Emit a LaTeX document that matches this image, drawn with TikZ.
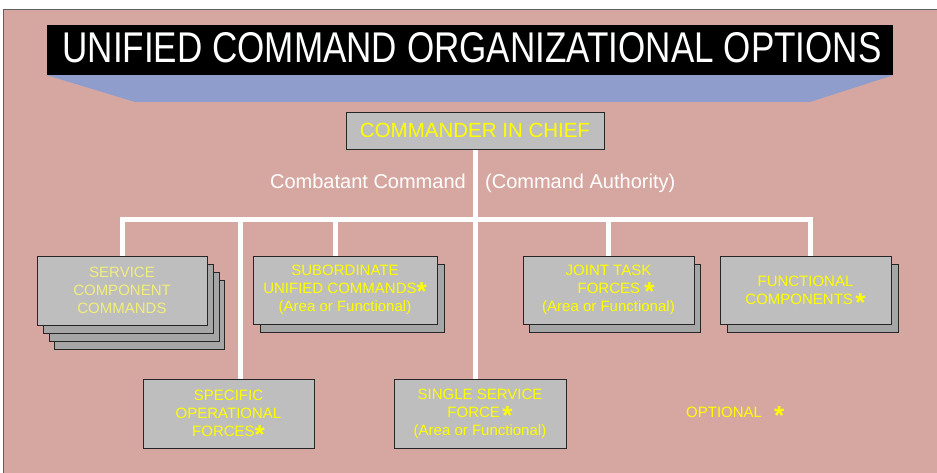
\documentclass[tikz,border=0pt]{standalone}
\usepackage{fontspec}
\setmainfont{Liberation Sans}
\usepackage{graphicx}
\usepackage{tikz}
\usetikzlibrary{positioning,calc,shadows,backgrounds}
\definecolor{slidepink}{HTML}{D6A7A1}
\definecolor{bandblue}{HTML}{8F9DCC}
\definecolor{boxgrey}{HTML}{BEBEBE}
\definecolor{shadegrey}{HTML}{A6A6A6}
\definecolor{textyellow}{HTML}{FFFF00}
\definecolor{paleyellow}{HTML}{F2EE7C}
\definecolor{edgegrey}{HTML}{606060}
\newcommand{\optstar}{\smash{\raisebox{-7pt}{\fontsize{26}{26}\selectfont\bfseries *}}}

\begin{document}
\begin{tikzpicture}[x=1pt,y=-1pt,
  orgbox/.style={draw=black!85,fill=boxgrey,line width=0.8pt,inner sep=0pt,align=center,
    text=textyellow,font=\fontsize{15}{18}\selectfont,minimum width=171pt,minimum height=69pt},
  backcopy/.style 2 args={general shadow={fill=shadegrey,draw=black!85,line width=0.8pt,
    shadow xshift=#1,shadow yshift=#2}},
  conn/.style={draw=white,line width=5pt,line join=miter},
  labeltext/.style={text=white,inner sep=0pt,font=\fontsize{20}{24}\selectfont}]
  \useasboundingbox (0,0) rectangle (937,473);

  % Title bar
  \node[fill=black,minimum width=846pt,minimum height=50pt,inner sep=0pt] (titlebar) at (470,50) {};
  \node[text=white,inner sep=0pt,font=\fontsize{43}{43}\selectfont] (title) at (472,47.5)
    {\scalebox{0.815}[1]{UNIFIED COMMAND ORGANIZATIONAL OPTIONS}};

  % Top of the chain
  \node[orgbox,minimum width=258pt,minimum height=37pt,font=\fontsize{20.5}{24}\selectfont] (cic) at (475,130.5) {COMMANDER IN CHIEF};
  \node[labeltext,anchor=base east] (combat) at (466,189) {Combatant Command};
  \node[labeltext,anchor=base west] (authority) at (485,189) {(Command Authority)};

  % Upper row of boxes
  \node[orgbox,text=paleyellow,minimum width=170pt,
    backcopy={17pt}{-24pt},backcopy={12pt}{-16pt},backcopy={6pt}{-8pt}] (svc) at (122,290.5)
    {SERVICE\\COMPONENT\\COMMANDS};
  \node[orgbox,minimum width=184pt,minimum height=68pt,backcopy={7pt}{-8pt}] (sub) at (345,290)
    {SUBORDINATE\\UNIFIED COMMANDS\optstar\\(Area or Functional)};
  \node[orgbox,minimum height=68pt,backcopy={6pt}{-8pt}] (joint) at (608.5,290)
    {JOINT TASK\\\quad FORCES \optstar\\(Area or Functional)};
  \node[orgbox,minimum height=68pt,backcopy={7pt}{-8pt}] (func) at (805.5,290)
    {FUNCTIONAL\\COMPONENTS\,\optstar};

  % Lower row of boxes
  \node[orgbox] (spec) at (228.5,413.5) {SPECIFIC\\OPERATIONAL\\FORCES\optstar};
  \node[orgbox,minimum width=172pt] (single) at (480,413.5) {SINGLE SERVICE\\FORCE\,\optstar\\(Area or Functional)};

  % Key
  \node[text=textyellow,inner sep=0pt,font=\fontsize{15}{18}\selectfont,anchor=base west] (optional) at (686,417.5)
    {OPTIONAL\hspace{12pt}\optstar};

  % Drop points on the box tops
  \coordinate (bus) at (476,220);
  \coordinate (specdrop) at ([xshift=11.5pt]spec.north);
  \coordinate (subdrop) at ([xshift=-10pt]sub.north);
  \coordinate (funcdrop) at ([xshift=4.5pt]func.north);

  \begin{scope}[on background layer]
    % Slide background
    \fill[slidepink] (3,9) rectangle (937,473);
    \draw[edgegrey] (937,9) -- (3,9) -- (3,473);
    \fill[bandblue] (titlebar.south west) -- (titlebar.south east) -- (810,102) -- (135,102) -- cycle;

    % Connectors
    \draw[conn] (svc.north) |- (bus) -| (funcdrop);
    \draw[conn] (cic.south) -- (cic.south |- single.north);
    \draw[conn] (specdrop) -- (specdrop |- bus);
    \draw[conn] (subdrop) -- (subdrop |- bus);
    \draw[conn] (joint.north) -- (joint.north |- bus);
  \end{scope}
\end{tikzpicture}
\end{document}
